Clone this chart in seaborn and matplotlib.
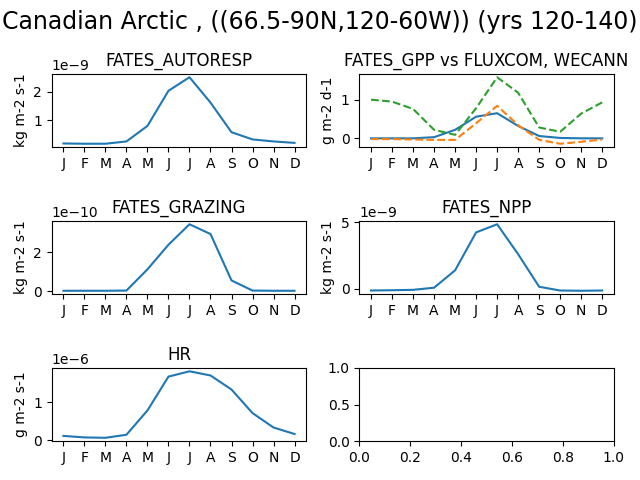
import matplotlib
matplotlib.use("Agg")
import matplotlib.pyplot as plt
import numpy as np
import seaborn as sns

months = ["J", "F", "M", "A", "M", "J", "J", "A", "S", "O", "N", "D"]

# monthly climatologies
autoresp = np.array([0.20, 0.19, 0.19, 0.27, 0.81, 2.03, 2.50, 1.62, 0.59, 0.34, 0.27, 0.22]) * 1e-9
gpp_fates = [0.0, 0.0, 0.0, 0.03, 0.22, 0.56, 0.65, 0.32, 0.06, 0.01, 0.0, 0.0]
gpp_fluxcom = [-0.02, -0.02, -0.03, -0.04, -0.04, 0.39, 0.84, 0.34, -0.04, -0.14, -0.09, -0.03]
gpp_wecann = [1.0, 0.95, 0.76, 0.22, 0.09, 0.78, 1.58, 1.18, 0.28, 0.17, 0.64, 0.93]
grazing = np.array([0.02, 0.02, 0.02, 0.03, 1.12, 2.38, 3.43, 2.93, 0.55, 0.03, 0.02, 0.02]) * 1e-10
npp = np.array([-0.13, -0.11, -0.08, 0.08, 1.39, 4.24, 4.85, 2.6, 0.15, -0.13, -0.15, -0.13]) * 1e-9
hr = np.array([0.11, 0.07, 0.06, 0.14, 0.78, 1.67, 1.81, 1.70, 1.33, 0.71, 0.33, 0.16]) * 1e-6


def monthly(ax, series, title, units, styles=None):
    x = np.arange(12)
    for i, s in enumerate(series):
        ls = "-" if styles is None else styles[i]
        sns.lineplot(x=x, y=s, ax=ax, color=f"C{i}", linestyle=ls)
    ax.set_xticks(x)
    ax.set_xticklabels(months)
    ax.set_title(title)
    ax.set_ylabel(units)


fig, axs = plt.subplots(3, 2, figsize=(6.4, 4.8), dpi=100)
monthly(axs[0, 0], [autoresp], "FATES_AUTORESP", "kg m-2 s-1")
monthly(axs[0, 1], [gpp_fates, gpp_fluxcom, gpp_wecann],
        "FATES_GPP vs FLUXCOM, WECANN", "g m-2 d-1", styles=["-", "--", "--"])
monthly(axs[1, 0], [grazing], "FATES_GRAZING", "kg m-2 s-1")
monthly(axs[1, 1], [npp], "FATES_NPP", "kg m-2 s-1")
monthly(axs[2, 0], [hr], "HR", "g m-2 s-1")

fig.suptitle("Canadian Arctic , ((66.5-90N,120-60W)) (yrs 120-140)", fontsize=17)
fig.subplots_adjust(left=0.081, right=0.959, top=0.846, bottom=0.081,
                    hspace=1.01, wspace=0.21)
plt.savefig("out.png")
